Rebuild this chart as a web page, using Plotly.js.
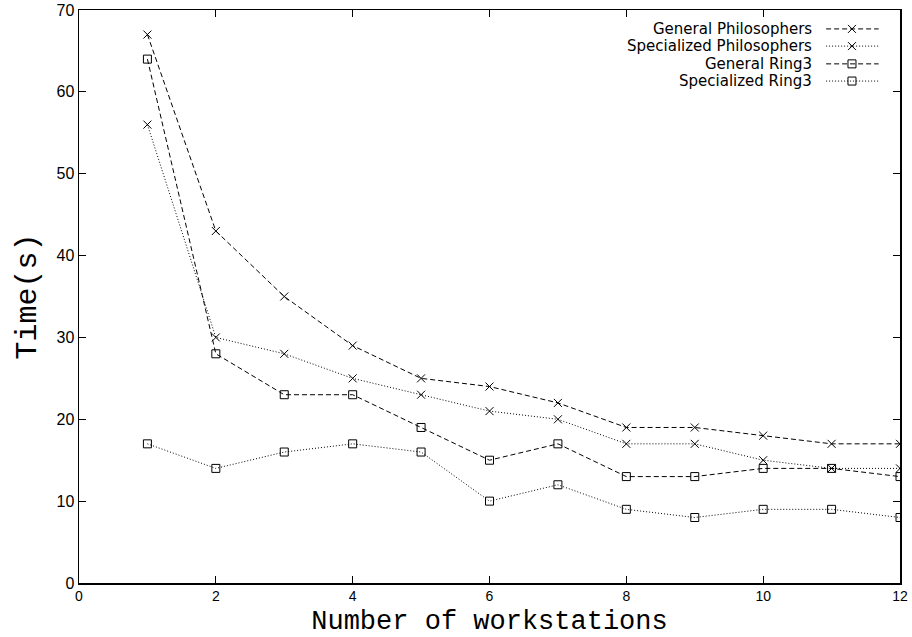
<!DOCTYPE html>
<html>
<head>
<meta charset="utf-8">
<script src="https://cdn.plot.ly/plotly-3.0.1.min.js"></script>
<style>html,body{margin:0;padding:0;background:#fff}#chart{width:912px;height:637px}</style>
</head>
<body>
<div id="chart"></div>
<script>
const workstations = [1,2,3,4,5,6,7,8,9,10,11,12];
const generalPhilosophers = [67,43,35,29,25,24,22,19,19,18,17,17];
const specializedPhilosophers = [56,30,28,25,23,21,20,17,17,15,14,14];
const generalRing3 = [64,28,23,23,19,15,17,13,13,14,14,13];
const specializedRing3 = [17,14,16,17,16,10,12,9,8,9,9,8];
const seriesNames = ['General Philosophers','Specialized Philosophers','General Ring3','Specialized Ring3'];
const xTicks = [0,2,4,6,8,10,12];
const yTicks = [0,10,20,30,40,50,60,70];

const styles = [
  {dash:'5px,3px', symbol:'x-thin-open', size:8},
  {dash:'1px,2px', symbol:'x-thin-open', size:8},
  {dash:'5px,3px', symbol:'square-open', size:8},
  {dash:'1px,2px', symbol:'square-open', size:8}
];
const seriesValues = [generalPhilosophers, specializedPhilosophers, generalRing3, specializedRing3];

const traces = seriesValues.map((vals,i)=>({
  x: workstations, y: vals, type:'scatter', mode:'lines+markers', name: seriesNames[i],
  line:{color:'#000', width:1, dash:styles[i].dash},
  marker:{symbol:styles[i].symbol, size:styles[i].size, color:'#000', line:{color:'#000', width:1}},
  showlegend:false, hoverinfo:'skip'
}));

// legend samples (drawn on an overlay axis in plot-area fraction units)
const legRows = [0.967, 0.937, 0.906, 0.876];
const annotations = [];
seriesNames.forEach((n,i)=>{
  traces.push({x:[0.910,0.974], y:[legRows[i],legRows[i]], xaxis:'x2', yaxis:'y2', type:'scatter', mode:'lines',
    line:{color:'#000', width:1, dash:styles[i].dash}, showlegend:false, hoverinfo:'skip'});
  traces.push({x:[0.9415], y:[legRows[i]], xaxis:'x2', yaxis:'y2', type:'scatter', mode:'markers',
    marker:{symbol:styles[i].symbol, size:styles[i].size, color:'#000', line:{color:'#000', width:1}}, showlegend:false, hoverinfo:'skip'});
  annotations.push({xref:'x2', yref:'y2', x:0.895, y:legRows[i], xanchor:'right', yanchor:'middle',
    text:n, showarrow:false, font:{family:'DejaVu Sans, Liberation Sans, Arial, sans-serif', size:15, color:'#000'}});
});

const layout = {
  width:912, height:637,
  margin:{l:79, r:12, t:10, b:54},
  paper_bgcolor:'#fff', plot_bgcolor:'#fff',
  showlegend:false,
  xaxis:{range:[0,12], tickvals:xTicks, ticktext:xTicks.map(String), ticks:'inside', ticklen:7, tickwidth:1, tickcolor:'#000',
    showline:true, linecolor:'#000', linewidth:1.5, mirror:'ticks', showgrid:false, zeroline:false,
    tickfont:{family:'Liberation Sans Narrow, Liberation Sans, Arial, sans-serif', size:14, color:'#000'},
    title:{text:'Number of workstations', font:{family:'Liberation Mono, Courier New, monospace', size:27, color:'#000'}, standoff:10}},
  yaxis:{range:[0,70], tickvals:yTicks, ticktext:yTicks.map(String), ticks:'inside', ticklen:7, tickwidth:1, tickcolor:'#000',
    showline:true, linecolor:'#000', linewidth:1.5, mirror:'ticks', showgrid:false, zeroline:false,
    tickfont:{family:'Liberation Sans, Arial, sans-serif', size:16, color:'#000'},
    title:{text:'Time(s)', font:{family:'Liberation Mono, Courier New, monospace', size:30, color:'#000'}, standoff:11}},
  xaxis2:{overlaying:'x', range:[0,1], visible:false, fixedrange:true},
  yaxis2:{overlaying:'y', range:[0,1], visible:false, fixedrange:true},
  annotations: annotations
};
Plotly.newPlot('chart', traces, layout, {displayModeBar:false, staticPlot:true});
</script>
</body>
</html>
